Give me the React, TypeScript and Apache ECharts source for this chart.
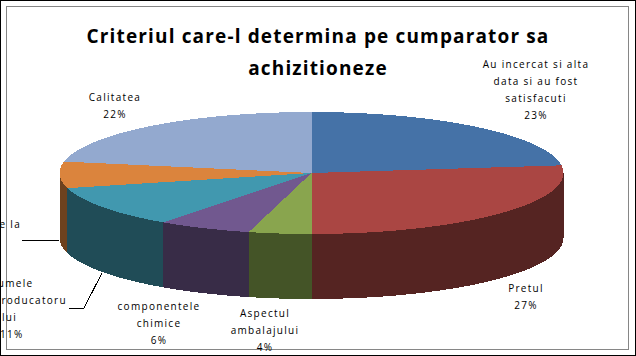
import React, { useEffect, useRef } from "react";
import * as echarts from "echarts";

const titleText = "Criteriul care-l determina pe cumparator sa\nachizitioneze";
const sliceNames = [
  "Au incercat si alta data si au fost satisfacuti",
  "Pretul",
  "Aspectul ambalajului",
  "componentele chimice",
  "Numele producatorului",
  "de la",
  "Calitatea",
];
const sliceValues = [23, 27, 4, 6, 11, 7, 22];
const topColors = ["#4572A7", "#AA4643", "#89A54E", "#71588F", "#4198AF", "#DB843D", "#93A9CF"];
const sideColors = ["#233954", "#552422", "#445427", "#382C47", "#204C57", "#6E421E", "#4A5468"];

const pie = { cx: 311.5, cy: 173, rx: 252, ry: 61, depth: 65 };

const labelBlocks = [
  { x: 536, y: 64, lines: ["Au incercat si alta", "data si au fost", "satisfacuti", "23%"] },
  { x: 526, y: 288, lines: ["Pretul", "27%"] },
  { x: 265, y: 313, lines: ["Aspectul", "ambalajului", "4%"] },
  { x: 159, y: 306, lines: ["componentele", "chimice", "6%"] },
  { x: 115, y: 97, lines: ["Calitatea", "22%"] },
];
const clippedLines = [
  { x: 21, y: 224, text: "e la", align: "right" },
  { x: -11, y: 283, text: "Numele", align: "left" },
  { x: -6, y: 300, text: "producatoru", align: "left" },
  { x: 2, y: 317, text: "lui", align: "left" },
  { x: 0, y: 334, text: "11%", align: "left" },
];
const leaders = [
  [[22, 240], [59, 240]],
  [[69, 308], [84, 308], [102, 273]],
];

const total = sliceValues.reduce((a, b) => a + b, 0);
const point = (deg: number, dy = 0): number[] => {
  const a = (deg * Math.PI) / 180;
  return [pie.cx + pie.rx * Math.sin(a), pie.cy - pie.ry * Math.cos(a) + dy];
};
const arc = (from: number, to: number, dy = 0): number[][] => {
  const pts: number[][] = [];
  const n = Math.max(2, Math.ceil(Math.abs(to - from) * 2));
  for (let i = 0; i <= n; i++) pts.push(point(from + ((to - from) * i) / n, dy));
  return pts;
};

const labelStyle = { fill: "#000", fontFamily: "'Open Sans'", fontSize: 10 };

export default function App() {
  const ref = useRef<HTMLDivElement>(null);
  useEffect(() => {
    document.body.style.margin = "0";
    const chart = echarts.init(ref.current!, null, { renderer: "svg" });
    const graphicTexts: any[] = [];
    labelBlocks.forEach((b) =>
      b.lines.forEach((line, i) =>
        graphicTexts.push({
          type: "text",
          x: b.x,
          y: b.y + i * 17,
          style: { ...labelStyle, text: line, textAlign: "center", textVerticalAlign: "middle" },
        })
      )
    );
    clippedLines.forEach((l) =>
      graphicTexts.push({
        type: "text",
        x: l.x,
        y: l.y,
        style: { ...labelStyle, text: l.text, textAlign: l.align, textVerticalAlign: "middle" },
      })
    );
    chart.setOption({
      animation: false,
      backgroundColor: "#fff",
      title: {
        text: titleText,
        left: 313,
        top: 15,
        textAlign: "center",
        textStyle: { fontFamily: "'Open Sans'", fontWeight: "bold", fontSize: 19, lineHeight: 32, color: "#000" },
      },
      series: [
        {
          type: "custom",
          coordinateSystem: "none",
          data: sliceValues.map((v, i) => ({ value: [v], name: sliceNames[i] })),
          renderItem: (params: any, api: any) => {
            const i = params.dataIndex;
            const before = sliceValues.slice(0, i).reduce((a, b) => a + b, 0);
            const from = (before / total) * 360;
            const to = ((before + api.value(0)) / total) * 360;
            const children: any[] = [];
            const sideFrom = Math.max(from, 90);
            const sideTo = Math.min(to, 270);
            if (sideTo > sideFrom) {
              const upper = arc(sideFrom, sideTo);
              const lower = arc(sideFrom, sideTo, pie.depth).reverse();
              children.push({
                type: "polygon",
                shape: { points: [...upper, ...lower] },
                style: { fill: sideColors[i] },
              });
            }
            children.push({
              type: "polygon",
              shape: { points: [[pie.cx, pie.cy], ...arc(from, to)] },
              style: { fill: topColors[i] },
            });
            return { type: "group", children };
          },
        },
      ],
      graphic: [
        { type: "rect", shape: { x: 0.5, y: 0.5, width: 635, height: 355 }, style: { fill: "none", stroke: "#000", lineWidth: 1 }, z: -1 },
        { type: "rect", shape: { x: 6.5, y: 6.5, width: 622, height: 343 }, style: { fill: "none", stroke: "#868686", lineWidth: 1 }, z: -1 },
        ...leaders.map((pts) => ({
          type: "polyline",
          shape: { points: pts },
          style: { fill: "none", stroke: "#000", lineWidth: 1 },
        })),
        ...graphicTexts,
      ],
    });
    return () => chart.dispose();
  }, []);
  return (
    <>
      <style>{`#root path{shape-rendering:crispEdges} #root text{letter-spacing:1.3px} #root text[style*="bold"]{letter-spacing:1.15px}`}</style>
      <div ref={ref} style={{ width: 636, height: 356, overflow: "hidden" }} />
    </>
  );
}
